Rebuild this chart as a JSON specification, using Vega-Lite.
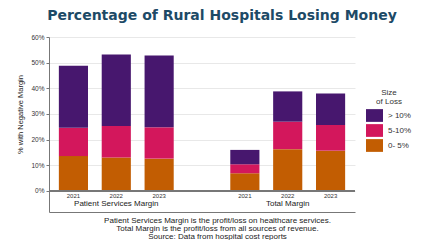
{
  "$schema": "https://vega.github.io/schema/vega-lite/v6.json",
  "width": 306,
  "height": 175,
  "autosize": {"type": "none"},
  "padding": {"left": 49, "top": 37, "right": 66, "bottom": 28},
  "background": "white",
  "title": {
    "text": "Percentage of Rural Hospitals Losing Money",
    "font": "DejaVu Sans",
    "fontSize": 14,
    "fontWeight": "bold",
    "color": "#1d4a66",
    "anchor": "middle",
    "dx": 20,
    "offset": 11
  },
  "config": {
    "font": "Liberation Sans",
    "view": {"stroke": null},
    "axis": {"labelFont": "Liberation Sans", "titleFont": "Liberation Sans"},
    "axisY": {
      "format": ".0%",
      "labelOverlap": false,
      "labelFontSize": 6.5,
      "labelColor": "#333333",
      "tickSize": 3,
      "tickColor": "#777777",
      "labelPadding": 2,
      "domainColor": "#777777",
      "gridColor": "#e8e8e8",
      "titleFontSize": 7.5,
      "titleFontWeight": "normal",
      "titleColor": "#222222",
      "titlePadding": 6,
      "titleY": 77
    }
  },
  "datasets": {
    "bars": [
      {"slot": "P2021", "size": "0- 5%", "pct": 0.136},
      {"slot": "P2021", "size": "5-10%", "pct": 0.110},
      {"slot": "P2021", "size": "> 10%", "pct": 0.242},
      {"slot": "P2022", "size": "0- 5%", "pct": 0.130},
      {"slot": "P2022", "size": "5-10%", "pct": 0.123},
      {"slot": "P2022", "size": "> 10%", "pct": 0.279},
      {"slot": "P2023", "size": "0- 5%", "pct": 0.126},
      {"slot": "P2023", "size": "5-10%", "pct": 0.122},
      {"slot": "P2023", "size": "> 10%", "pct": 0.280},
      {"slot": "T2021", "size": "0- 5%", "pct": 0.069},
      {"slot": "T2021", "size": "5-10%", "pct": 0.035},
      {"slot": "T2021", "size": "> 10%", "pct": 0.056},
      {"slot": "T2022", "size": "0- 5%", "pct": 0.163},
      {"slot": "T2022", "size": "5-10%", "pct": 0.107},
      {"slot": "T2022", "size": "> 10%", "pct": 0.118},
      {"slot": "T2023", "size": "0- 5%", "pct": 0.157},
      {"slot": "T2023", "size": "5-10%", "pct": 0.100},
      {"slot": "T2023", "size": "> 10%", "pct": 0.123}
    ],
    "years": [
      {"slot": "P2021", "year": "2021"},
      {"slot": "P2022", "year": "2022"},
      {"slot": "P2023", "year": "2023"},
      {"slot": "T2021", "year": "2021"},
      {"slot": "T2022", "year": "2022"},
      {"slot": "T2023", "year": "2023"}
    ],
    "groups": [
      {"slot": "P2022", "label": "Patient Services Margin"},
      {"slot": "T2022", "label": "Total Margin"}
    ]
  },
  "encoding": {
    "x": {
      "field": "slot",
      "type": "nominal",
      "scale": {
        "domain": ["P2021", "P2022", "P2023", "gap", "T2021", "T2022", "T2023"],
        "paddingInner": 0.32,
        "paddingOuter": 0.23
      },
      "axis": {
        "orient": "bottom",
        "labels": false,
        "ticks": false,
        "domain": true,
        "domainColor": "#777777",
        "domainWidth": 1,
        "grid": false,
        "title": [
          "Patient Services Margin is the profit/loss on healthcare services.",
          "Total Margin is the profit/loss from all sources of revenue.",
          "Source:  Data from hospital cost reports"
        ],
        "titleFontSize": 8,
        "titleFontWeight": "normal",
        "titleColor": "#222222",
        "titleLineHeight": 8.3,
        "titlePadding": 4,
        "titleX": 168
      }
    }
  },
  "layer": [
    {
      "data": {"name": "bars"},
      "mark": {"type": "bar"},
      "encoding": {
        "y": {
          "field": "pct",
          "type": "quantitative",
          "stack": "zero",
          "scale": {"domain": [-0.082, 0.6], "nice": false, "zero": false},
          "axis": {"values": [0, 0.1, 0.2, 0.3, 0.4, 0.5, 0.6], "title": "% with Negative Margin"}
        },
        "color": {
          "field": "size",
          "type": "nominal",
          "scale": {
            "domain": ["> 10%", "5-10%", "0- 5%"],
            "range": ["#47176e", "#d3175c", "#c25d02"]
          },
          "legend": {
            "orient": "none",
            "legendX": 317,
            "legendY": 52,
            "title": ["Size", "of Loss"],
            "titleFontSize": 8,
            "titleFontWeight": "normal",
            "titleColor": "#333333",
            "titleAlign": "center",
            "titleAnchor": "middle",
            "titleLineHeight": 9,
            "titlePadding": 1,
            "symbolType": "M-1,-0.75H1V0.75H-1Z",
            "symbolSize": 289,
            "symbolStrokeWidth": 0,
            "symbolOpacity": 1,
            "labelFontSize": 8,
            "labelColor": "#333333",
            "labelOffset": 5,
            "rowPadding": -2.5
          }
        },
        "order": {"field": "size", "sort": "ascending"}
      }
    },
    {
      "data": {"name": "bars"},
      "mark": {"type": "rule", "color": "#777777", "strokeWidth": 1},
      "encoding": {
        "y": {"datum": 0, "type": "quantitative", "axis": {"values": [0, 0.1, 0.2, 0.3, 0.4, 0.5, 0.6], "title": "% with Negative Margin"}},
        "x": null
      }
    },
    {
      "data": {"name": "years"},
      "mark": {"type": "text", "fontSize": 6, "color": "#333333", "baseline": "middle"},
      "encoding": {
        "text": {"field": "year"},
        "y": {"datum": -0.019, "type": "quantitative", "axis": {"values": [0, 0.1, 0.2, 0.3, 0.4, 0.5, 0.6], "title": "% with Negative Margin"}}
      }
    },
    {
      "data": {"name": "groups"},
      "mark": {"type": "text", "fontSize": 8, "color": "#222222", "baseline": "middle"},
      "encoding": {
        "text": {"field": "label"},
        "y": {"datum": -0.051, "type": "quantitative", "axis": {"values": [0, 0.1, 0.2, 0.3, 0.4, 0.5, 0.6], "title": "% with Negative Margin"}}
      }
    }
  ]
}
